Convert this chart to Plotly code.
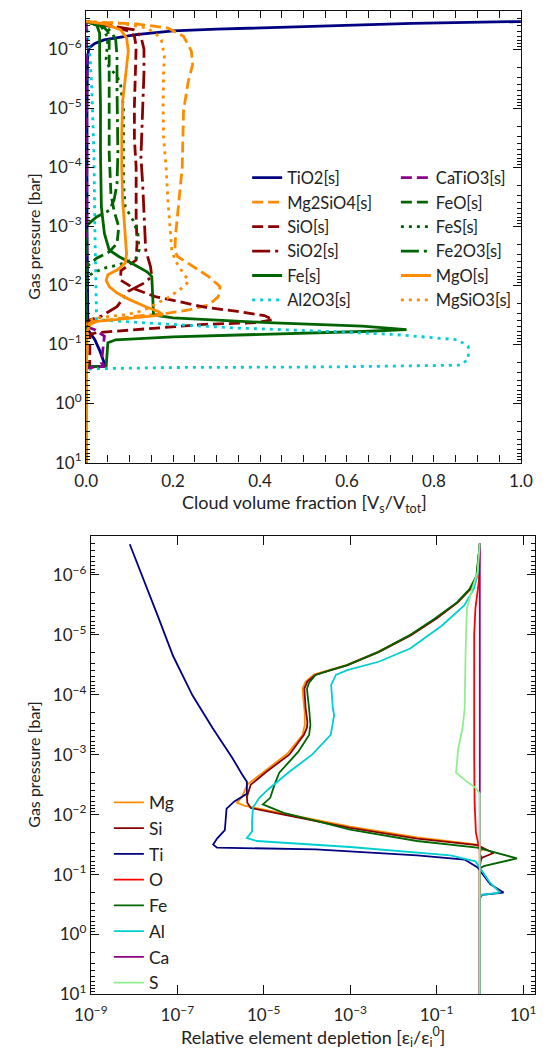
import numpy as np
import plotly.graph_objects as go

W, H = 549, 1054

# ---------------- Top panel: cloud volume fraction vs log10(pressure/bar) ----------------
tio2_x = [1.3, 1.0, 0.75, 0.5, 0.3, 0.2, 0.115, 0.041, 0.02, 0.006, 0.003, 0.002, 0.002, 0.004, 0.02, 0.031, 0.038, 0.043, 0.046, 0.0, 0.0]
tio2_lp = [-6.49, -6.47, -6.44, -6.39, -6.34, -6.31, -6.25, -6.16, -6.10, -6.02, -5.83, -5.0, -3.0, -1.25, -1.08, -0.90, -0.75, -0.66, -0.63, -0.62, 1.0]

mg2sio4_x = [0.0, 0.05, 0.115, 0.188, 0.224, 0.242, 0.245, 0.235, 0.224, 0.221, 0.213, 0.206, 0.204, 0.21, 0.246, 0.282, 0.308, 0.304, 0.282, 0.239, 0.188, 0.115, 0.057, 0.013, 0.002, 0.0, 0.0]
mg2sio4_lp = [-6.47, -6.45, -6.43, -6.36, -6.22, -5.97, -5.74, -5.46, -4.96, -4.0, -3.44, -2.88, -2.60, -2.49, -2.32, -2.15, -1.98, -1.81, -1.67, -1.59, -1.53, -1.48, -1.42, -1.39, -1.34, -1.30, 1.0]

sio_x = [0.0, 0.075, 0.1, 0.111, 0.115, 0.113, 0.111, 0.111, 0.115, 0.115, 0.117, 0.115, 0.08, 0.079, 0.115, 0.159, 0.21, 0.275, 0.348, 0.41, 0.43, 0.39, 0.271, 0.162, 0.068, 0.024, 0.009, 0.008, 0.0, 0.0]
sio_lp = [-6.47, -6.36, -6.30, -6.22, -6.05, -5.6, -5.04, -4.48, -4.0, -3.16, -2.71, -2.43, -2.25, -2.09, -1.93, -1.81, -1.73, -1.63, -1.56, -1.49, -1.42, -1.37, -1.34, -1.28, -1.22, -1.20, -1.17, -0.62, -0.60, 1.0]

sio2_x = [0.0, 0.082, 0.111, 0.126, 0.133, 0.133, 0.13, 0.126, 0.126, 0.13, 0.133, 0.137, 0.148, 0.151, 0.133, 0.097, 0.071, 0.035, 0.01, 0.0, 0.0]
sio2_lp = [-6.47, -6.36, -6.33, -6.22, -6.0, -5.6, -5.04, -4.48, -4.17, -3.72, -3.16, -2.60, -2.32, -2.15, -2.04, -1.90, -1.64, -1.48, -1.42, -1.38, 1.0]

fe_x = [0.0, 0.024, 0.031, 0.031, 0.033, 0.033, 0.035, 0.042, 0.053, 0.075, 0.111, 0.14, 0.151, 0.153, 0.155, 0.2, 0.417, 0.635, 0.737, 0.635, 0.417, 0.2, 0.068, 0.05, 0.046, 0.0, 0.0]
fe_lp = [-6.47, -6.42, -6.27, -5.88, -5.04, -4.25, -3.33, -2.88, -2.60, -2.49, -2.35, -2.23, -2.15, -1.70, -1.50, -1.45, -1.37, -1.31, -1.25, -1.22, -1.17, -1.13, -1.08, -1.03, -0.63, -0.62, 1.0]

al2o3_x = [0.0, 0.002, 0.006, 0.009, 0.013, 0.017, 0.018, 0.02, 0.022, 0.024, 0.024, 0.126, 0.344, 0.563, 0.708, 0.854, 0.879, 0.879, 0.861, 0.563, 0.2, 0.024, 0.0, 0.0]
al2o3_lp = [-6.47, -6.33, -6.16, -5.88, -5.32, -4.48, -4.25, -3.0, -2.0, -1.6, -1.42, -1.37, -1.28, -1.22, -1.17, -1.08, -0.97, -0.75, -0.65, -0.62, -0.61, -0.59, -0.58, 1.0]

catio3_x = [0.0, 0.001, 0.001, 0.02, 0.042, 0.039, 0.035, 0.042, 0.006, 0.0, 0.0]
catio3_lp = [-6.47, -6.3, -1.30, -1.25, -1.14, -0.92, -0.69, -0.63, -0.61, -0.60, 1.0]

feo_x = [0.0, 0.04, 0.05, 0.053, 0.053, 0.053, 0.053, 0.057, 0.064, 0.075, 0.071, 0.053, 0.024, 0.006, 0.0, 0.0]
feo_lp = [-6.47, -6.38, -6.30, -6.16, -5.6, -5.04, -4.25, -3.55, -3.27, -2.99, -2.71, -2.57, -2.46, -2.35, -2.30, 1.0]

fes_x = [0.0, 0.035, 0.042, 0.05, 0.046, 0.053, 0.068, 0.079, 0.082, 0.086, 0.086, 0.086, 0.09, 0.108, 0.119, 0.122, 0.115, 0.075, 0.039, 0.009, 0.0, 0.0]
fes_lp = [-6.47, -6.38, -6.30, -6.19, -5.83, -5.69, -5.57, -5.43, -5.21, -5.04, -4.25, -3.72, -3.33, -3.10, -2.88, -2.60, -2.46, -2.35, -2.29, -2.18, -2.10, 1.0]

fe2o3_x = [0.0, 0.05, 0.06, 0.068, 0.071, 0.071, 0.073, 0.071, 0.064, 0.053, 0.024, 0.002, 0.0, 0.0]
fe2o3_lp = [-6.47, -6.35, -6.27, -6.16, -5.88, -5.32, -4.25, -3.72, -3.44, -3.27, -3.16, -3.02, -2.95, 1.0]

mgo_x = [0.0, 0.042, 0.079, 0.093, 0.097, 0.09, 0.084, 0.082, 0.082, 0.084, 0.09, 0.093, 0.09, 0.071, 0.05, 0.046, 0.053, 0.071, 0.1, 0.137, 0.166, 0.177, 0.068, 0.024, 0.009, 0.002, 0.001, 0.001]
mgo_lp = [-6.47, -6.43, -6.33, -6.19, -5.97, -5.52, -5.12, -4.56, -4.0, -3.44, -2.88, -2.54, -2.38, -2.26, -2.18, -2.09, -1.98, -1.87, -1.76, -1.64, -1.56, -1.50, -1.42, -1.39, -1.34, -1.22, -0.60, 1.0]

mgsio3_x = [0.0, 0.08, 0.14, 0.162, 0.173, 0.18, 0.178, 0.177, 0.178, 0.184, 0.188, 0.195, 0.197, 0.205, 0.222, 0.236, 0.228, 0.21, 0.188, 0.166, 0.144, 0.115, 0.085, 0.057, 0.028, 0.013, 0.0, 0.0]
mgsio3_lp = [-6.47, -6.44, -6.36, -6.25, -6.16, -5.88, -5.6, -5.04, -4.5, -4.0, -3.44, -2.88, -2.60, -2.42, -2.22, -2.08, -2.00, -1.90, -1.79, -1.71, -1.62, -1.54, -1.50, -1.48, -1.45, -1.42, -1.38, 1.0]

top_series = [
    ("TiO2[s]", tio2_x, tio2_lp, "#000080", "solid", "legend"),
    ("Mg2SiO4[s]", mg2sio4_x, mg2sio4_lp, "#FF8C00", "11px,5px", "legend"),
    ("SiO[s]", sio_x, sio_lp, "#8B0000", "11px,5px", "legend"),
    ("SiO2[s]", sio2_x, sio2_lp, "#8B0000", "18px,5px,3px,5px", "legend"),
    ("Fe[s]", fe_x, fe_lp, "#006400", "solid", "legend"),
    ("Al2O3[s]", al2o3_x, al2o3_lp, "#00CED1", "3px,5px", "legend"),
    ("CaTiO3[s]", catio3_x, catio3_lp, "#8B008B", "11px,5px", "legend2"),
    ("FeO[s]", feo_x, feo_lp, "#006400", "11px,5px", "legend2"),
    ("FeS[s]", fes_x, fes_lp, "#006400", "3px,5px", "legend2"),
    ("Fe2O3[s]", fe2o3_x, fe2o3_lp, "#006400", "18px,5px,3px,5px", "legend2"),
    ("MgO[s]", mgo_x, mgo_lp, "#FF8C00", "solid", "legend2"),
    ("MgSiO3[s]", mgsio3_x, mgsio3_lp, "#FF8C00", "3px,5px", "legend2"),
]

# ---------------- Bottom panel: log10(depletion) vs log10(pressure/bar) ----------------
mg_ld = [0.0, -0.07, -0.22, -0.51, -1.0, -1.6, -2.34, -3.07, -3.45, -3.83, -4.03, -4.1, -4.08, -4.05, -4.05, -4.1, -4.45, -4.98, -5.38, -5.5, -5.62, -5.45, -4.54, -3.0, -1.45, -0.06, 0.1, 0.0, 0.0]
mg_lp = [-6.52, -5.98, -5.76, -5.54, -5.28, -5.0, -4.72, -4.5, -4.42, -4.34, -4.22, -4.1, -3.9, -3.7, -3.5, -3.33, -3.02, -2.72, -2.5, -2.3, -2.2, -2.15, -2.02, -1.8, -1.62, -1.5, -1.43, -1.38, 1.0]

si_ld = [0.0, -0.07, -0.22, -0.51, -1.0, -1.6, -2.34, -3.07, -3.44, -3.81, -3.99, -4.06, -4.03, -3.99, -4.0, -4.07, -4.41, -4.93, -5.3, -5.39, -5.38, -5.3, -4.54, -3.0, -1.45, -0.06, 0.32, 0.05, 0.0, 0.0]
si_lp = [-6.52, -5.98, -5.76, -5.54, -5.27, -4.99, -4.71, -4.49, -4.41, -4.33, -4.22, -4.1, -3.77, -3.55, -3.45, -3.33, -3.0, -2.72, -2.5, -2.3, -2.2, -2.11, -2.0, -1.78, -1.6, -1.49, -1.36, -1.28, -1.2, 1.0]

ti_ld = [-8.1, -7.8, -7.45, -7.1, -6.65, -6.18, -5.73, -5.50, -5.39, -5.39, -5.68, -5.86, -5.90, -6.08, -6.17, -6.08, -3.8, -1.45, -0.35, -0.05, 0.24, 0.55, 0.05, 0.0, 0.0]
ti_lp = [-6.51, -5.97, -5.31, -4.65, -3.99, -3.44, -2.95, -2.67, -2.55, -2.35, -2.22, -2.10, -1.74, -1.60, -1.50, -1.45, -1.42, -1.32, -1.25, -1.12, -0.84, -0.70, -0.66, -0.60, 1.0]

o_ld = [0.0, -0.02, -0.1, -0.13, -0.13, -0.12, -0.09, -0.03, 0.0, 0.0]
o_lp = [-6.52, -5.9, -5.45, -5.0, -3.0, -2.2, -1.7, -1.5, -1.4, 1.0]

fe_ld = [0.0, -0.08, -0.24, -0.53, -1.04, -1.63, -2.36, -3.09, -3.46, -3.8, -3.95, -4.0, -3.95, -3.92, -3.95, -4.2, -4.45, -4.64, -4.75, -4.85, -5.02, -4.54, -3.77, -3.0, -1.45, -0.06, 0.86, 0.09, 0.0, 0.0]
fe_lp2 = [-6.52, -5.98, -5.76, -5.54, -5.27, -4.99, -4.71, -4.49, -4.41, -4.33, -4.2, -4.1, -3.77, -3.5, -3.33, -3.05, -2.85, -2.7, -2.5, -2.28, -2.17, -2.03, -1.89, -1.75, -1.56, -1.45, -1.27, -1.14, -1.1, 1.0]

al_ld = [0.0, -0.05, -0.14, -0.36, -0.88, -1.61, -2.34, -3.07, -3.33, -3.44, -3.40, -3.37, -3.45, -3.88, -4.4, -4.9, -5.1, -5.25, -5.27, -5.27, -5.39, -5.16, -3.0, -0.68, -0.1, 0.0, 0.24, 0.47, 0.05, 0.0, 0.0]
al_lp = [-6.52, -6.0, -5.76, -5.49, -5.15, -4.77, -4.55, -4.41, -4.33, -4.16, -3.77, -3.66, -3.33, -3.0, -2.72, -2.42, -2.28, -2.12, -1.9, -1.72, -1.61, -1.56, -1.46, -1.32, -1.22, -1.12, -0.86, -0.70, -0.66, -0.62, 1.0]

ca_ld = [0.0, 0.0, 0.03, 0.01, 0.0, 0.0]
ca_lp = [-6.52, -1.35, -1.3, -1.2, -1.1, 1.0]

s_ld = [0.0, -0.05, -0.18, -0.30, -0.33, -0.35, -0.40, -0.5, -0.53, -0.55, -0.3, -0.1, 0.0, 0.0]
s_lp = [-6.52, -6.05, -5.76, -5.43, -4.66, -3.77, -3.44, -3.1, -2.85, -2.7, -2.55, -2.45, -2.35, 1.0]

bottom_series = [
    ("Mg", mg_ld, mg_lp, "#FF8C00"),
    ("Si", si_ld, si_lp, "#8B0000"),
    ("Ti", ti_ld, ti_lp, "#000080"),
    ("O", o_ld, o_lp, "#FF0000"),
    ("Fe", fe_ld, fe_lp2, "#006400"),
    ("Al", al_ld, al_lp, "#00CED1"),
    ("Ca", ca_ld, ca_lp, "#8B008B"),
    ("S", s_ld, s_lp, "#90EE90"),
]

FONT = "Lato, 'DejaVu Sans', sans-serif"
TXT = "#222222"

fig = go.Figure()
for i, (name, xs, lps, col, dash, lg) in enumerate(top_series):
    fig.add_trace(go.Scatter(
        x=xs, y=np.power(10.0, np.array(lps)), mode="lines", name=name,
        line=dict(color=col, width=2.8, dash=dash), legend=lg,
        legendgroup="t%d" % i, xaxis="x", yaxis="y"))
for i, (name, lds, lps, col) in enumerate(bottom_series):
    fig.add_trace(go.Scatter(
        x=np.power(10.0, np.array(lds)), y=np.power(10.0, np.array(lps)),
        mode="lines", name=name, line=dict(color=col, width=1.8),
        legend="legend3", legendgroup="b%d" % i, xaxis="x2", yaxis="y2"))


def sup(n):
    s = str(n).replace("-", "\u2212")
    return "10<sup>%s</sup>" % s


dec_vals = [10.0 ** k for k in range(-6, 2)]
dec_text = [sup(k) for k in range(-6, 2)]
minor_vals = [m * 10.0 ** k for k in range(-7, 1) for m in range(2, 10)]
x2_vals = [10.0 ** k for k in range(-9, 2, 2)]
x2_text = [sup(k) for k in range(-9, 2, 2)]

axis_common = dict(showline=True, linecolor="#111", linewidth=1.2, mirror="ticks",
                   ticks="inside", tickwidth=1.1, tickcolor="#111", showgrid=False,
                   zeroline=False, tickfont=dict(family=FONT, size=17, color=TXT))
minor_y = dict(tickmode="array", tickvals=minor_vals, ticks="inside", ticklen=4,
               tickcolor="#111", tickwidth=1)

fig.update_layout(
    width=W, height=H, margin=dict(l=0, r=0, t=0, b=0),
    paper_bgcolor="white", plot_bgcolor="white",
    font=dict(family=FONT, color=TXT),
    xaxis=dict(domain=[73 / W, 532 / W], range=[0, 1], tick0=0, dtick=0.2,
               tickformat=".1f", ticklen=7, ticklabelstandoff=3,
               minor=dict(dtick=0.05, ticks="inside", ticklen=7, tickcolor="#111", tickwidth=1.1),
               anchor="y", **axis_common),
    yaxis=dict(domain=[1 - 467 / H, 1 - 11 / H], type="log", range=[1, -6.65],
               tickmode="array", tickvals=dec_vals, ticktext=dec_text, ticklen=8,
               minor=minor_y, anchor="x", **axis_common),
    xaxis2=dict(domain=[78 / W, 547 / W], type="log", range=[-9, 1.28], tickmode="array",
                tickvals=x2_vals, ticktext=x2_text, ticklen=9, ticklabelstandoff=5,
                anchor="y2", **axis_common),
    yaxis2=dict(domain=[1 - 1004 / H, 1 - 541 / H], type="log", range=[1, -6.65],
                tickmode="array", tickvals=dec_vals, ticktext=dec_text, ticklen=8,
                minor=minor_y, anchor="x2", **axis_common),
    legend=dict(x=243 / W, y=1 - 162 / H, xanchor="left", yanchor="top",
                bgcolor="rgba(255,255,255,0)", font=dict(family=FONT, size=16.5, color=TXT),
                tracegroupgap=0, itemwidth=30),
    legend2=dict(x=400 / W, y=1 - 162 / H, xanchor="left", yanchor="top",
                 bgcolor="rgba(255,255,255,0)", font=dict(family=FONT, size=16.5, color=TXT),
                 tracegroupgap=0, itemwidth=30),
    legend3=dict(x=97 / W, y=1 - 792 / H, xanchor="left", yanchor="top",
                 bgcolor="rgba(255,255,255,0)", font=dict(family=FONT, size=17.5, color=TXT),
                 tracegroupgap=0, itemwidth=30),
    annotations=[
        dict(text="Gas pressure [bar]", x=18 / W, y=1 - 239 / H, xref="paper", yref="paper",
             xanchor="center", yanchor="middle", textangle=-90, showarrow=False,
             font=dict(family=FONT, size=16, color=TXT)),
        dict(text="Gas pressure [bar]", x=18 / W, y=1 - 772 / H, xref="paper", yref="paper",
             xanchor="center", yanchor="middle", textangle=-90, showarrow=False,
             font=dict(family=FONT, size=16, color=TXT)),
        dict(text="Cloud volume fraction [V<sub>s</sub>/V<sub>tot</sub>]", x=304 / W,
             y=1 - 508 / H, xref="paper", yref="paper", xanchor="center", yanchor="middle",
             showarrow=False, font=dict(family=FONT, size=18, color=TXT)),
        dict(text="Relative element depletion [\u03b5<sub>i</sub>/\u03b5<sub>i</sub><sup>0</sup>]",
             x=312 / W, y=1 - 1047 / H, xref="paper", yref="paper", xanchor="center",
             yanchor="middle", showarrow=False, font=dict(family=FONT, size=18, color=TXT)),
    ],
)

fig.write_html("out.html")
